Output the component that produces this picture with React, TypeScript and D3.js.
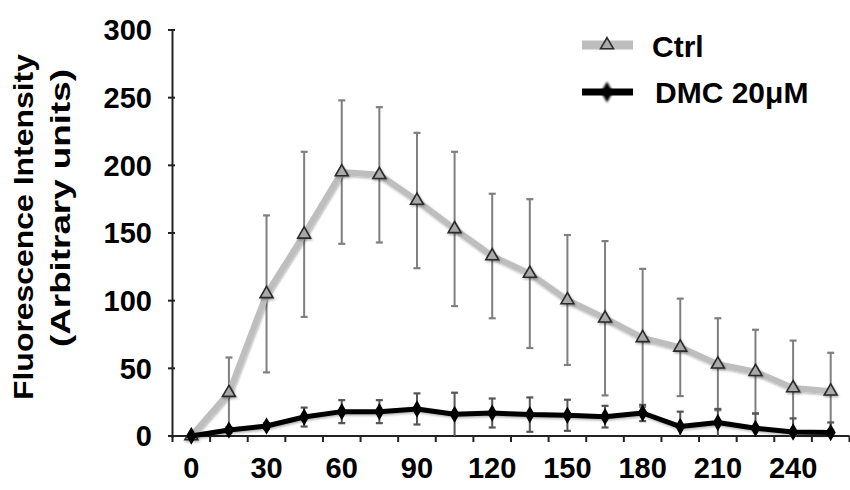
import React from "react";
import * as d3 from "d3";

const times = ["0", "15", "30", "45", "60", "75", "90", "105", "120", "135", "150", "165", "180", "195", "210", "225", "240", "255"];
const tickLabels = ["0", "30", "60", "90", "120", "150", "180", "210", "240"];
const yTicks = [0, 50, 100, 150, 200, 250, 300];

const ctrlMean = [0, 32, 105, 149, 195, 193, 174, 153, 133, 120, 100.5, 87, 72.5, 65.5, 53, 47.5, 35.5, 33];
const ctrlSD = [0, 26, 58, 61, 53, 50, 50, 57, 46, 55, 48, 57, 51, 36, 34, 31, 35, 28.5];
const dmcMean = [0, 4.4, 7.4, 14, 18, 18, 20, 16, 17, 15.8, 15.3, 14.3, 17, 7, 10, 5.7, 3, 2.5];
const dmcSD = [0, 2, 2, 7, 8.5, 8.5, 11.5, 16, 10.7, 12.7, 11.5, 8, 6, 11, 10, 11, 10, 7.5];

const seriesNames = ["Ctrl", "DMC 20μM"];

const W = 850;
const H = 490;
const FONT = "'Liberation Sans', Arial, Helvetica, sans-serif";

export default function App() {
  const x = d3.scaleBand<string>().domain(times).range([172.5, 849.5]).paddingInner(0).paddingOuter(0);
  const bw = x.bandwidth();
  const cx = (i: number) => (x(times[i]) as number) + bw / 2;
  const y = d3.scaleLinear().domain([0, 300]).range([436, 30]);

  const line = d3
    .line<number>()
    .x((_, i) => cx(i))
    .y((d) => y(d));

  const tri = d3.symbol().type(d3.symbolTriangle).size(72)() as string;
  const dia = d3.symbol().type(d3.symbolDiamond).size(60)() as string;

  const boundaries = times.map((t) => x(t) as number).concat([(x(times[times.length - 1]) as number) + bw]);

  const errBars = (means: number[], sds: number[], color: string, width: number, key: string) =>
    means.map((m, i) => {
      if (sds[i] <= 0) return null;
      const top = y(Math.min(300, m + sds[i]));
      const bot = y(Math.max(0, m - sds[i]));
      const xx = cx(i);
      return (
        <g key={key + i} stroke={color} strokeWidth={width}>
          <line x1={xx} x2={xx} y1={top} y2={bot} />
          <line x1={xx - 3.5} x2={xx + 3.5} y1={top} y2={top} strokeWidth={2.2} />
          {m - sds[i] > 0 && <line x1={xx - 3.5} x2={xx + 3.5} y1={bot} y2={bot} strokeWidth={2.2} />}
        </g>
      );
    });

  return (
    <svg width={W} height={H} style={{ position: "absolute", left: 0, top: 0, background: "#fff" }}>
      <defs>
        <filter id="shadow" filterUnits="userSpaceOnUse" x="-1000" y="-1000" width="3000" height="3000">
          <feDropShadow dx="1" dy="1.5" stdDeviation="1.2" floodColor="#000" floodOpacity="0.3" />
        </filter>
        <filter id="soft" filterUnits="userSpaceOnUse" x="-1000" y="-1000" width="3000" height="3000">
          <feGaussianBlur stdDeviation="0.7" />
        </filter>
      </defs>
      <rect width={W} height={H} fill="#fff" />

      {/* Y axis */}
      <line x1={172.5} x2={172.5} y1={y(300)} y2={y(0) + 2} stroke="#222" strokeWidth={2} />
      {yTicks.map((t) => (
        <g key={"yt" + t}>
          <line x1={168} x2={175} y1={y(t)} y2={y(t)} stroke="#222" strokeWidth={2} />
          <text
            x={152}
            y={y(t)}
            dy="0.36em"
            textAnchor="end"
            fontFamily={FONT}
            fontWeight="bold"
            fontSize={29}
            fill="#000"
          >
            {t}
          </text>
        </g>
      ))}

      {/* X axis */}
      <line x1={168} x2={849.5} y1={y(0)} y2={y(0)} stroke="#222" strokeWidth={2} />
      {boundaries.map((b, i) => (
        <line key={"xt" + i} x1={b} x2={b} y1={y(0)} y2={y(0) + 6} stroke="#222" strokeWidth={2} />
      ))}
      {tickLabels.map((lab) => (
        <text
          key={"xl" + lab}
          x={cx(times.indexOf(lab))}
          y={478}
          textAnchor="middle"
          fontFamily={FONT}
          fontWeight="bold"
          fontSize={29}
          fill="#000"
        >
          {lab}
        </text>
      ))}

      {/* Y title */}
      <text
        transform="translate(33,400) rotate(-90)"
        x={0}
        y={0}
        textLength={346}
        lengthAdjust="spacingAndGlyphs"
        fontFamily={FONT}
        fontWeight="bold"
        fontSize={28}
        fill="#000"
      >
        Fluorescence Intensity
      </text>
      <text
        transform="translate(70,347) rotate(-90)"
        x={0}
        y={0}
        textLength={278}
        lengthAdjust="spacingAndGlyphs"
        fontFamily={FONT}
        fontWeight="bold"
        fontSize={28}
        fill="#000"
      >
        (Arbitrary units)
      </text>

      {/* Ctrl series */}
      {errBars(ctrlMean, ctrlSD, "#7f7f7f", 2, "ce")}
      <path d={line(ctrlMean) as string} fill="none" stroke="#bebebe" strokeWidth={6} strokeLinejoin="round" filter="url(#shadow)" />
      {ctrlMean.map((m, i) => (
        <path
          key={"ct" + i}
          d={tri}
          transform={`translate(${cx(i)},${y(m)})`}
          fill="#a9a9a9"
          stroke="#2a2a2a"
          strokeWidth={1.6}
          filter="url(#shadow)"
        />
      ))}

      {/* DMC series */}
      {errBars(dmcMean, dmcSD, "#555", 2, "de")}
      <path d={line(dmcMean) as string} fill="none" stroke="#000" strokeWidth={5} strokeLinejoin="round" filter="url(#shadow)" />
      {dmcMean.map((m, i) => (
        <path
          key={"dd" + i}
          d={dia}
          transform={`translate(${cx(i)},${y(m)})`}
          fill="#000"
          stroke="#000"
          strokeWidth={1.5}
          filter="url(#soft)"
        />
      ))}

      {/* Legend */}
      <line x1={582} x2={633} y1={45} y2={45} stroke="#bebebe" strokeWidth={9} filter="url(#soft)" />
      <path d={tri} transform="translate(607,45)" fill="#a9a9a9" stroke="#2a2a2a" strokeWidth={1.6} />
      <text x={652} y={57} fontFamily={FONT} fontWeight="bold" fontSize={30} fill="#000">
        {seriesNames[0]}
      </text>
      <line x1={582} x2={633} y1={92} y2={92} stroke="#000" strokeWidth={7} filter="url(#soft)" />
      <path d={dia} transform="translate(607,92) scale(1.2)" fill="#000" stroke="#000" strokeWidth={1.5} filter="url(#soft)" />
      <text x={655} y={103} fontFamily={FONT} fontWeight="bold" fontSize={30} fill="#000">
        {seriesNames[1]}
      </text>
    </svg>
  );
}
